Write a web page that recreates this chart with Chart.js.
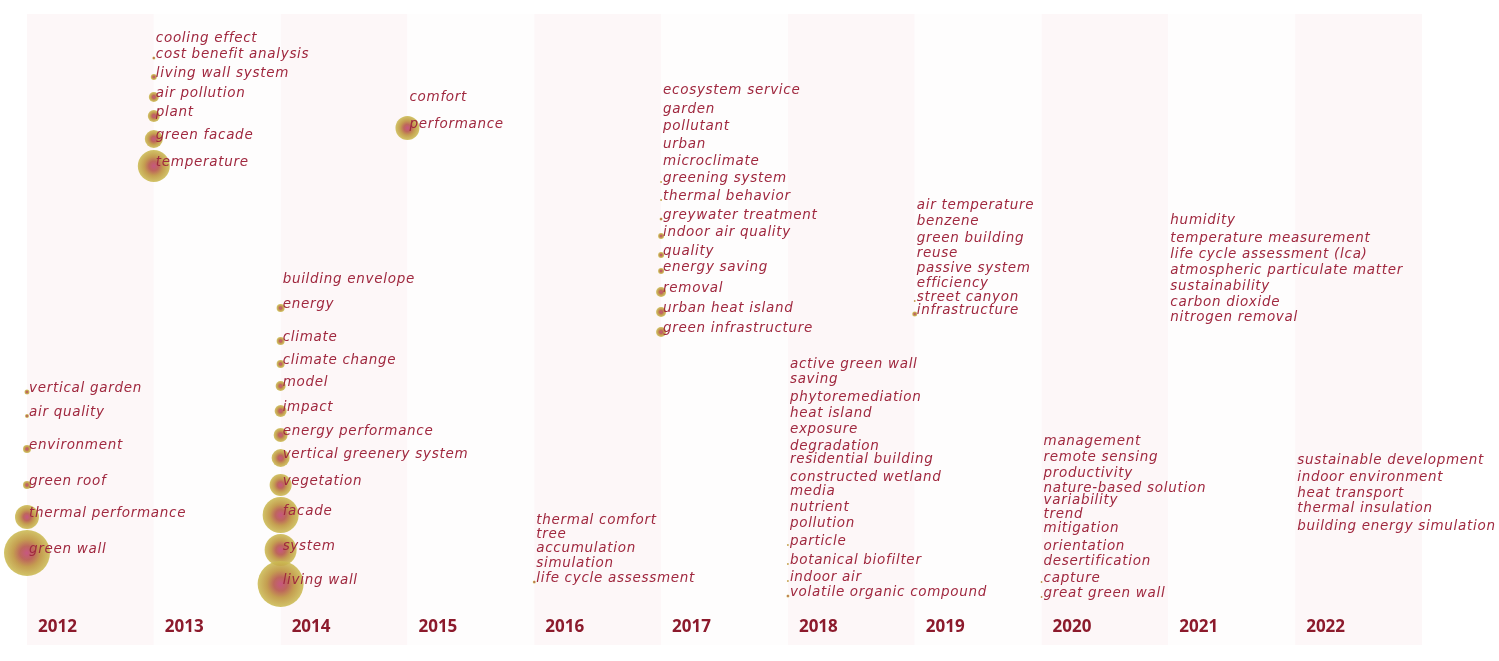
<!DOCTYPE html>
<html>
<head>
<meta charset="utf-8">
<script src="https://cdn.jsdelivr.net/npm/chart.js@4/dist/chart.umd.min.js"></script>
<style>
  html, body { margin: 0; background: #fff; }
  canvas { display: block; }
</style>
</head>
<body>
<canvas id="timezone" width="1499" height="661"></canvas>
<script>
// Keyword timezone view: [keyword, row (top = 0), node size]
const YEARS = [2012, 2013, 2014, 2015, 2016, 2017, 2018, 2019, 2020, 2021, 2022];

const TERMS_2012 = [
  ['vertical garden', 392, 2.5],
  ['air quality', 416, 2],
  ['environment', 449, 4],
  ['green roof', 485, 4],
  ['thermal performance', 517, 12],
  ['green wall', 553, 23],
];
const TERMS_2013 = [
  ['cooling effect', 42, 0],
  ['cost benefit analysis', 58, 1.5],
  ['living wall system', 77, 3],
  ['air pollution', 97, 5],
  ['plant', 116, 6],
  ['green facade', 139, 9],
  ['temperature', 166, 16],
];
const TERMS_2014 = [
  ['building envelope', 283, 0],
  ['energy', 308, 4],
  ['climate', 341, 4],
  ['climate change', 364, 4],
  ['model', 386, 5],
  ['impact', 411, 6],
  ['energy performance', 435, 7],
  ['vertical greenery system', 458, 9],
  ['vegetation', 485, 11],
  ['facade', 515, 18],
  ['system', 550, 16],
  ['living wall', 584, 23],
];
const TERMS_2015 = [
  ['comfort', 101, 0],
  ['performance', 128, 12],
];
const TERMS_2016 = [
  ['thermal comfort', 524, 0],
  ['tree', 538, 0],
  ['accumulation', 552, 0],
  ['simulation', 567, 0],
  ['life cycle assessment', 582, 1.5],
];
const TERMS_2017 = [
  ['ecosystem service', 94, 0],
  ['garden', 113, 0],
  ['pollutant', 130, 0],
  ['urban', 148, 0],
  ['microclimate', 165, 0],
  ['greening system', 182, 1],
  ['thermal behavior', 200, 1],
  ['greywater treatment', 219, 1.5],
  ['indoor air quality', 236, 3],
  ['quality', 255, 3],
  ['energy saving', 271, 3],
  ['removal', 292, 5],
  ['urban heat island', 312, 5],
  ['green infrastructure', 332, 5],
];
const TERMS_2018 = [
  ['active green wall', 368, 0],
  ['saving', 383, 0],
  ['phytoremediation', 401, 0],
  ['heat island', 417, 0],
  ['exposure', 433, 0],
  ['degradation', 450, 0],
  ['residential building', 463, 0],
  ['constructed wetland', 481, 0],
  ['media', 495, 0],
  ['nutrient', 511, 0],
  ['pollution', 527, 0],
  ['particle', 545, 1],
  ['botanical biofilter', 564, 1],
  ['indoor air', 581, 1],
  ['volatile organic compound', 596, 1.5],
];
const TERMS_2019 = [
  ['air temperature', 209, 0],
  ['benzene', 225, 0],
  ['green building', 242, 0],
  ['reuse', 257, 0],
  ['passive system', 272, 0],
  ['efficiency', 287, 0],
  ['street canyon', 301, 1],
  ['infrastructure', 314, 2.5],
];
const TERMS_2020 = [
  ['management', 445, 0],
  ['remote sensing', 461, 0],
  ['productivity', 477, 0],
  ['nature-based solution', 492, 0],
  ['variability', 504, 0],
  ['trend', 518, 0],
  ['mitigation', 532, 0],
  ['orientation', 550, 0],
  ['desertification', 565, 0],
  ['capture', 582, 1],
  ['great green wall', 597, 1],
];
const TERMS_2021 = [
  ['humidity', 224, 0],
  ['temperature measurement', 242, 0],
  ['life cycle assessment (lca)', 258, 0],
  ['atmospheric particulate matter', 274, 0],
  ['sustainability', 290, 0],
  ['carbon dioxide', 306, 0],
  ['nitrogen removal', 321, 0],
];
const TERMS_2022 = [
  ['sustainable development', 464, 0],
  ['indoor environment', 481, 0],
  ['heat transport', 497, 0],
  ['thermal insulation', 512, 0],
  ['building energy simulation', 530, 0],
];

const TERMS_BY_YEAR = [
  TERMS_2012, TERMS_2013, TERMS_2014, TERMS_2015, TERMS_2016, TERMS_2017,
  TERMS_2018, TERMS_2019, TERMS_2020, TERMS_2021, TERMS_2022,
];

const LABEL_COLOR = '#a0283f';
const YEAR_COLOR = '#8c1a2c';
const BAND_PINK = '#fdf7f8';
const BAND_WHITE = '#fefdfd';
const NODE_FALLBACK = 'rgba(192,150,70,0.9)';

function nodeFill(c) {
  if (c.type !== 'data' || !c.raw) return NODE_FALLBACK;
  const chart = c.chart;
  const x = chart.scales.x.getPixelForValue(c.raw.x);
  const y = chart.scales.y.getPixelForValue(c.raw.y);
  // elements get resolved once before the layout exists
  if (!Number.isFinite(x) || !Number.isFinite(y)) return NODE_FALLBACK;
  const r = Math.max(c.raw.r, 1);
  const g = chart.ctx.createRadialGradient(x, y, 0, x, y, r);
  g.addColorStop(0, 'rgba(196,78,122,0.95)');
  g.addColorStop(0.3, 'rgba(184,90,78,0.92)');
  g.addColorStop(0.6, 'rgba(190,148,62,0.9)');
  g.addColorStop(1, 'rgba(204,188,84,0.88)');
  return g;
}

const datasets = YEARS.map((year, i) => ({
  label: String(year),
  data: TERMS_BY_YEAR[i].map(([term, row, size]) => ({ x: year, y: row, r: size, term })),
  backgroundColor: nodeFill,
  borderWidth: 0,
  clip: false,
}));

// Alternating pale column bands behind the whole timeline
const bandsPlugin = {
  id: 'bands',
  beforeDraw(chart) {
    const { ctx, scales } = chart;
    ctx.save();
    YEARS.forEach((year, i) => {
      const x0 = scales.x.getPixelForValue(year);
      const x1 = scales.x.getPixelForValue(year + 1);
      ctx.fillStyle = i % 2 === 0 ? BAND_PINK : BAND_WHITE;
      ctx.fillRect(x0, 14, x1 - x0, 631);
    });
    ctx.restore();
  },
};

// Keyword labels next to each node
const termLabels = {
  id: 'termLabels',
  afterDatasetsDraw(chart) {
    const { ctx } = chart;
    ctx.save();
    ctx.font = 'italic 13.5px "DejaVu Sans", sans-serif';
    ctx.letterSpacing = '0.7px';
    ctx.fillStyle = LABEL_COLOR;
    ctx.textBaseline = 'middle';
    chart.data.datasets.forEach((ds, i) => {
      const meta = chart.getDatasetMeta(i);
      meta.data.forEach((pt, j) => {
        ctx.fillText(ds.data[j].term, pt.x + 2, pt.y - 4);
      });
    });
    ctx.restore();
  },
};

const chart = new Chart(document.getElementById('timezone'), {
  type: 'bubble',
  data: { datasets },
  options: {
    responsive: false,
    animation: false,
    events: [],
    layout: { autoPadding: false, padding: { left: 27, right: 77, top: 0, bottom: 19 } },
    plugins: { legend: { display: false }, tooltip: { enabled: false } },
    scales: {
      x: {
        type: 'linear',
        min: 2012,
        max: 2023,
        grid: { display: false, drawTicks: false },
        border: { display: false },
        afterFit: (axis) => { axis.height = 30; },
        afterBuildTicks: (axis) => {
          axis.ticks = YEARS.map((y) => ({ value: y + 0.24 }));
        },
        ticks: {
          autoSkip: false,
          maxRotation: 0,
          padding: 5,
          color: YEAR_COLOR,
          font: { family: '"Open Sans", sans-serif', size: 17, weight: 'bold' },
          callback: (v) => String(Math.round(v - 0.24)),
        },
      },
      y: {
        display: false,
        min: 0,
        max: 612,
        reverse: true,
      },
    },
  },
  plugins: [bandsPlugin, termLabels],
});
chart.update();
</script>
</body>
</html>
